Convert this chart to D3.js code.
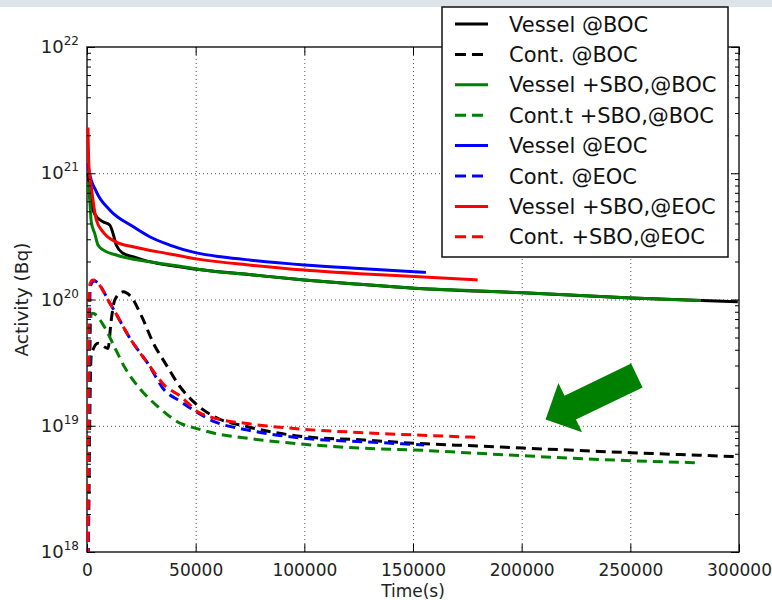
<!DOCTYPE html>
<html>
<head>
<meta charset="utf-8">
<script src="https://cdnjs.cloudflare.com/ajax/libs/d3/7.8.5/d3.min.js"></script>
<style>
  body { margin: 0; background: #fff; }
  svg { display: block; font-family: "DejaVu Sans", sans-serif; }
  .tick line { stroke: #000; }
</style>
</head>
<body>
<svg id="chart" width="772" height="600"></svg>
<script>
// time (s), activity (Bq)
var vesselBoc = [[0, 1.0e21], [780, 7.8e20], [2300, 5.1e20], [4600, 4.4e20], [6900, 4.13e20], [9990, 3.89e20],
    [11500, 3.34e20], [13000, 2.7e20], [16100, 2.32e20], [20700, 2.18e20], [25300, 2.06e20], [52100, 1.72e20],
    [75000, 1.57e20], [99500, 1.43e20], [125000, 1.32e20], [150100, 1.23e20], [200000, 1.13e20],
    [250000, 1.03e20], [299000, 9.6e19]];
var contBoc = [[0, 5e17], [1500, 3.63e19], [4600, 4.5e19], [9200, 4.1e19], [10700, 6.88e19], [12300, 9.9e19],
    [16100, 1.15e20], [19800, 1.05e20], [24400, 7.54e19], [30500, 4.36e19], [35100, 3.22e19], [42800, 1.99e19],
    [48900, 1.53e19], [58100, 1.18e19], [73500, 9.83e18], [99500, 8.19e18], [127100, 7.71e18], [150100, 7.26e18],
    [179300, 6.91e18], [200000, 6.66e18], [249800, 6.12e18], [299000, 5.69e18]];
var vesselSboBoc = [[0, 8.5e20], [780, 6.14e20], [1520, 4.11e20], [3080, 3.34e20], [4600, 2.7e20], [6900, 2.47e20],
    [13000, 2.25e20], [28400, 1.99e20], [43700, 1.82e20], [52100, 1.72e20], [75000, 1.57e20], [99500, 1.43e20],
    [125000, 1.32e20], [150100, 1.23e20], [180800, 1.17e20], [200000, 1.13e20], [249800, 1.03e20], [282000, 9.8e19]];
var contSboBoc = [[0, 5e17], [1400, 7.54e19], [2100, 7.78e19], [7500, 6.09e19], [12100, 4.23e19], [16700, 2.94e19],
    [24400, 1.92e19], [32100, 1.42e19], [42800, 1.04e19], [49700, 9.54e18], [58100, 8.71e18], [73500, 7.95e18],
    [99500, 7.13e18], [127100, 6.63e18], [150100, 6.43e18], [179300, 6.05e18], [200000, 5.79e18],
    [249800, 5.29e18], [279700, 5.1e18]];
var vesselEoc = [[0, 1.2e21], [400, 1.05e21], [3820, 7.15e20], [9990, 5.12e20], [20700, 3.78e20], [28400, 3.14e20],
    [37600, 2.7e20], [49800, 2.34e20], [62000, 2.17e20], [75000, 2.05e20], [99500, 1.88e20], [125000, 1.76e20],
    [150100, 1.66e20], [155500, 1.64e20]];
var contEoc = [[0, 5e17], [1000, 1.23e20], [2100, 1.38e20], [3000, 1.4e20], [10600, 9.0e19], [19800, 4.78e19],
    [27500, 3.12e19], [35100, 1.92e19], [42800, 1.55e19], [49700, 1.29e19], [58100, 1.08e19], [73500, 9.25e18],
    [99500, 7.95e18], [127100, 7.47e18], [154700, 7.04e18]];
var vesselSboEoc = [[0, 2.3e21], [400, 1.15e21], [1520, 7.8e20], [3820, 4.27e20], [6900, 3.43e20], [13000, 2.85e20],
    [20700, 2.62e20], [36000, 2.32e20], [52100, 2.07e20], [75000, 1.87e20], [99500, 1.71e20], [125000, 1.6e20],
    [150100, 1.52e20], [179300, 1.43e20]];
var contSboEoc = [[0, 5e17], [600, 1.26e20], [2100, 1.43e20], [2900, 1.42e20], [10600, 9.04e19], [19800, 4.78e19],
    [27500, 3.12e19], [35100, 2.1e19], [42800, 1.7e19], [50500, 1.29e19], [58100, 1.15e19], [73500, 1.04e19],
    [99500, 9.37e18], [127100, 8.81e18], [150100, 8.45e18], [179300, 8.1e18]];

var seriesData = [vesselBoc, contBoc, vesselSboBoc, contSboBoc, vesselEoc, contEoc, vesselSboEoc, contSboEoc];
var seriesNames = ["Vessel @BOC", "Cont. @BOC", "Vessel +SBO,@BOC", "Cont.t +SBO,@BOC",
    "Vessel @EOC", "Cont. @EOC", "Vessel +SBO,@EOC", "Cont. +SBO,@EOC"];
var seriesColors = ["#000000", "#000000", "#008000", "#008000", "#0000ff", "#0000ff", "#ff0000", "#ff0000"];
var seriesDashed = [false, true, false, true, false, true, false, true];

var xTicks = [0, 50000, 100000, 150000, 200000, 250000, 300000];
var yTicks = [1e18, 1e19, 1e20, 1e21, 1e22];

// green arrow annotation (tail, tip) in data units
var arrowTail = [253000, 2.5e19];
var arrowTip = [211000, 1.12e19];

var svg = d3.select("#chart");
var mLeft = 87, mRight = 739, mTop = 47, mBottom = 552;

var x = d3.scaleLinear().domain([0, 300000]).range([mLeft, mRight]);
var y = d3.scaleLog().domain([1e18, 1e22]).range([mBottom, mTop]);

var minorTicks = [];
for (var e = 18; e < 22; e++) {
    for (var m = 2; m <= 9; m++) minorTicks.push(m * Math.pow(10, e));
}

// top band from the screenshot
svg.append("rect").attr("x", 0).attr("y", 0).attr("width", 772).attr("height", 7).attr("fill", "#dce4ea");

svg.append("clipPath").attr("id", "plot-clip")
    .append("rect").attr("x", mLeft - 2).attr("y", mTop).attr("width", mRight - mLeft + 2).attr("height", mBottom - mTop);

// grid
var grid = svg.append("g").attr("stroke", "#555").attr("stroke-width", 1).attr("stroke-dasharray", "1,3");
grid.selectAll(".gx").data(xTicks.slice(1, -1)).enter().append("line")
    .attr("x1", function (d) { return x(d) + 0.5; }).attr("x2", function (d) { return x(d) + 0.5; })
    .attr("y1", mTop).attr("y2", mBottom);
grid.selectAll(".gy").data(yTicks.slice(1, -1)).enter().append("line")
    .attr("x1", mLeft).attr("x2", mRight)
    .attr("y1", function (d) { return y(d) + 0.5; }).attr("y2", function (d) { return y(d) + 0.5; });

// frame (under the curves so the t=0 spikes sit on the spine)
svg.append("rect").attr("x", mLeft).attr("y", mTop).attr("width", mRight - mLeft).attr("height", mBottom - mTop)
    .attr("fill", "none").attr("stroke", "#222").attr("stroke-width", 1.5);

// curves
var line = d3.line()
    .x(function (d) { return x(d[0]) + 1; })
    .y(function (d) { return y(d[1]); })
    .curve(d3.curveMonotoneX);

svg.append("g").attr("clip-path", "url(#plot-clip)")
    .selectAll("path").data(seriesData).enter().append("path")
    .attr("d", line)
    .attr("fill", "none")
    .attr("stroke", function (d, i) { return seriesColors[i]; })
    .attr("stroke-width", 3)
    .attr("stroke-dasharray", function (d, i) { return seriesDashed[i] ? "10,6" : null; });

// ticks (inward, all four sides)
function ticks(axis, tx, ty) {
    var g = svg.append("g").attr("transform", "translate(" + tx + "," + ty + ")").call(axis);
    g.select(".domain").remove();
    return g;
}
ticks(d3.axisBottom(x).tickValues(xTicks).tickSize(-8).tickPadding(12).tickFormat(d3.format("d")), 0, mBottom)
    .selectAll("text").attr("font-size", 17).attr("font-family", "DejaVu Sans").attr("fill", "#222");
ticks(d3.axisTop(x).tickValues(xTicks).tickSize(-8).tickFormat(""), 0, mTop);
ticks(d3.axisLeft(y).tickValues(yTicks).tickSize(-8).tickFormat(""), mLeft, 0);
ticks(d3.axisLeft(y).tickValues(minorTicks).tickSize(-4).tickFormat(""), mLeft, 0);
ticks(d3.axisRight(y).tickValues(yTicks).tickSize(-8).tickFormat(""), mRight, 0);
ticks(d3.axisRight(y).tickValues(minorTicks).tickSize(-4).tickFormat(""), mRight, 0);

// y tick labels 10^n
var ylab = svg.append("g").attr("fill", "#222");
ylab.selectAll("text").data(yTicks).enter().append("text")
    .attr("x", mLeft - 8)
    .attr("y", function (d) { return y(d) + 6; })
    .attr("text-anchor", "end")
    .attr("font-size", 18)
    .each(function (d) {
        var t = d3.select(this);
        t.append("tspan").text("10");
        t.append("tspan").attr("font-size", 12).attr("dy", -8).text(Math.round(Math.log10(d)));
    });

// axis titles
svg.append("text").attr("x", (mLeft + mRight) / 2).attr("y", 597).attr("text-anchor", "middle")
    .attr("font-size", 17).attr("fill", "#222").text("Time(s)");
svg.append("text").attr("transform", "translate(28," + ((mTop + mBottom) / 2) + ") rotate(-90)")
    .attr("text-anchor", "middle").attr("font-size", 18.5).attr("fill", "#222").text("Activity (Bq)");

// arrow
var p0 = [x(arrowTip[0]), y(arrowTip[1])];
var p1 = [x(arrowTail[0]), y(arrowTail[1])];
var len = Math.hypot(p0[0] - p1[0], p0[1] - p1[1]);
var u = [(p0[0] - p1[0]) / len, (p0[1] - p1[1]) / len];
var n = [-u[1], u[0]];
var shaftW = 13.2, headW = 27.3, headL = 27.4;
var hb = [p0[0] - u[0] * headL, p0[1] - u[1] * headL];
function pt(b, k) { return [b[0] + n[0] * k, b[1] + n[1] * k]; }
var arrowPts = [p0, pt(hb, headW), pt(hb, shaftW), pt(p1, shaftW), pt(p1, -shaftW), pt(hb, -shaftW), pt(hb, -headW)];
svg.append("polygon").attr("points", arrowPts.map(function (p) { return p.join(","); }).join(" "))
    .attr("fill", "#008000");

// legend
var lg = svg.append("g");
lg.append("rect").attr("x", 442).attr("y", 7).attr("width", 286).attr("height", 250)
    .attr("fill", "#fff").attr("stroke", "#111").attr("stroke-width", 1.5);
var items = lg.selectAll(".item").data(seriesNames).enter().append("g")
    .attr("transform", function (d, i) { return "translate(0," + (24 + i * 30.4) + ")"; });
items.append("line").attr("x1", 455).attr("x2", 488).attr("y1", 0).attr("y2", 0)
    .attr("stroke", function (d, i) { return seriesColors[i]; })
    .attr("stroke-width", 3)
    .attr("stroke-dasharray", function (d, i) { return seriesDashed[i] ? "11,6" : null; });
items.append("text").attr("x", 509).attr("y", 7.5).attr("font-size", 21).attr("fill", "#111")
    .text(function (d) { return d; });
</script>
</body>
</html>
